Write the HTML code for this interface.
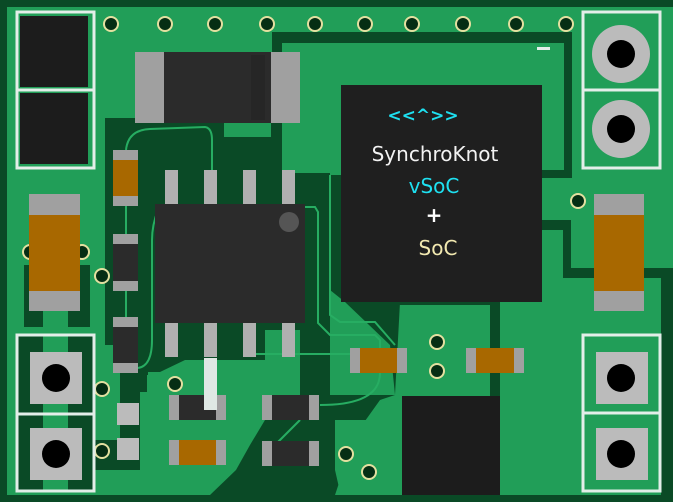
<!DOCTYPE html>
<html><head><meta charset="utf-8"><style>
html,body{margin:0;padding:0;background:#0a4a26;}
svg{display:block;}
text{font-family:"Liberation Sans","DejaVu Sans",sans-serif;}
</style></head><body>
<svg width="673" height="502" viewBox="0 0 673 502" xmlns="http://www.w3.org/2000/svg">
<defs>
<g id="via"><circle r="8" fill="#e3e0a0"/><circle r="6" fill="#052e14"/></g>
</defs>
<rect width="673" height="502" fill="#0a4a26"/>
<rect x="7" y="7" width="666" height="488" fill="#219e58"/>
<!-- dark pour regions -->
<polygon fill="#0a4a26" points="105,118 135,118 135,123 224,123 224,137 271,137 271,123 282,123 282,173 330,173 330,175 345,175 345,302 400,302 395,395 380,400 360,428 335,460 340,480 335,495 210,495 236,470 250,445 265,420 300,395 255,395 255,360 185,360 160,372 148,372 148,392 140,392 140,470 120,470 120,345 105,345"/>
<polygon fill="#219e58" points="147,375 185,375 185,395 210,395 210,420 240,410 250,425 240,448 215,470 195,470 195,440 165,440 165,420 147,420"/>
<polygon fill="#219e58" points="265,330 300,330 300,395 265,420 255,420 255,360 265,360"/>
<polygon fill="#219e58" points="330,290 345,302 390,345 395,395 330,395"/>
<polygon fill="#219e58" points="335,420 395,420 395,492 340,492 335,470"/>
<!-- right outlines -->
<polygon fill="#0a4a26" points="272,32 572,32 572,178 542,178 542,170 564,170 564,43 282,43 282,123 272,123"/>
<rect x="542" y="220" width="29" height="10" fill="#0a4a26"/>
<rect x="563" y="220" width="8" height="58" fill="#0a4a26"/>
<rect x="563" y="268" width="110" height="10" fill="#0a4a26"/>
<rect x="661" y="268" width="12" height="227" fill="#0a4a26"/>
<rect x="490" y="302" width="10" height="193" fill="#0a4a26"/>
<rect x="380" y="300" width="110" height="5" fill="#0a4a26"/>
<!-- left region darks -->
<rect x="24" y="265" width="66" height="62" fill="#0a4a26"/>
<rect x="43" y="265" width="25" height="62" fill="#219e58"/>
<rect x="16" y="334" width="79" height="158" fill="#0a4a26"/>
<rect x="43" y="334" width="25" height="158" fill="#219e58"/>
<rect x="95" y="440" width="30" height="30" fill="#0a4a26"/>
<!-- traces -->
<g fill="none" stroke="#27ad62" stroke-width="2">
<path d="M126,150 Q128,130 150,129 L205,127 Q212,128 212,140 L212,170"/>
<path d="M126,206 V234 M126,290 V317"/>
<path d="M138,368 Q152,366 152,340 V240 Q152,225 158,210"/>
<path d="M305,207 L315,207 L318,212 L318,323 L330,335 L375,335 L380,340 L380,348"/>
<path d="M330,175 V315 L340,322 L375,322 L395,345"/>
<path d="M256,354 H350"/>
<path d="M380,373 Q380,405 320,405"/>
<path d="M300,420 L270,450"/>
</g>
<!-- top-left pads -->
<rect x="17" y="12" width="77" height="156" fill="none" stroke="#e3eee9" stroke-width="3"/>
<line x1="17" y1="90" x2="94" y2="90" stroke="#e3eee9" stroke-width="3"/>
<rect x="20" y="16" width="68" height="71" fill="#1c1c1c"/>
<rect x="20" y="93" width="68" height="71" fill="#1c1c1c"/>
<!-- vias -->
<use href="#via" x="111" y="24"/><use href="#via" x="165" y="24"/><use href="#via" x="215" y="24"/><use href="#via" x="267" y="24"/><use href="#via" x="315" y="24"/>
<use href="#via" x="365" y="24"/><use href="#via" x="412" y="24"/><use href="#via" x="463" y="24"/><use href="#via" x="516" y="24"/><use href="#via" x="566" y="24"/>
<use href="#via" x="578" y="201"/><use href="#via" x="437" y="342"/><use href="#via" x="437" y="371"/><use href="#via" x="346" y="454"/><use href="#via" x="369" y="472"/>
<use href="#via" x="175" y="384"/><use href="#via" x="102" y="276"/><use href="#via" x="102" y="389"/><use href="#via" x="102" y="451"/><use href="#via" x="30" y="252"/><use href="#via" x="82" y="252"/>
<!-- big resistor -->
<rect x="135" y="52" width="165" height="71" fill="#2b2b2b"/>
<rect x="135" y="52" width="29" height="71" fill="#a0a0a0"/>
<rect x="271" y="52" width="29" height="71" fill="#a0a0a0"/>
<rect x="251" y="55" width="14" height="65" fill="#262626"/>
<!-- left cap -->
<rect x="29" y="194" width="51" height="117" fill="#a86800"/>
<rect x="29" y="194" width="51" height="21" fill="#a0a0a0"/>
<rect x="29" y="291" width="51" height="20" fill="#a0a0a0"/>
<!-- right cap -->
<rect x="594" y="194" width="50" height="117" fill="#a86800"/>
<rect x="594" y="194" width="50" height="21" fill="#a0a0a0"/>
<rect x="594" y="291" width="50" height="20" fill="#a0a0a0"/>
<!-- vertical small parts -->
<rect x="113" y="150" width="25" height="56" fill="#a86800"/><rect x="113" y="150" width="25" height="10" fill="#a0a0a0"/><rect x="113" y="196" width="25" height="10" fill="#a0a0a0"/>
<rect x="113" y="234" width="25" height="57" fill="#2b2b2b"/><rect x="113" y="234" width="25" height="10" fill="#a0a0a0"/><rect x="113" y="281" width="25" height="10" fill="#a0a0a0"/>
<rect x="113" y="317" width="25" height="56" fill="#2b2b2b"/><rect x="113" y="317" width="25" height="10" fill="#a0a0a0"/><rect x="113" y="363" width="25" height="10" fill="#a0a0a0"/>
<!-- IC8 -->
<g fill="#b0b0b0">
<rect x="165" y="170" width="13" height="34"/><rect x="204" y="170" width="13" height="34"/><rect x="243" y="170" width="13" height="34"/><rect x="282" y="170" width="13" height="34"/>
<rect x="165" y="323" width="13" height="34"/><rect x="204" y="323" width="13" height="34"/><rect x="243" y="323" width="13" height="34"/><rect x="282" y="323" width="13" height="34"/>
</g>
<rect x="155" y="204" width="150" height="119" fill="#2b2b2b"/>
<circle cx="289" cy="222" r="10" fill="#555"/>
<!-- big IC -->
<rect x="341" y="85" width="201" height="217" fill="#1f1f1f"/>
<text x="423" y="121" font-size="17" font-weight="bold" fill="#1ee0f0" text-anchor="middle" style="font-family:'DejaVu Sans',sans-serif">&lt;&lt;^&gt;&gt;</text>
<text x="435" y="161" font-size="20" fill="#f2f2f2" text-anchor="middle" style="font-family:'DejaVu Sans',sans-serif">SynchroKnot</text>
<text x="434" y="193" font-size="20" fill="#1ee0f0" text-anchor="middle" style="font-family:'DejaVu Sans',sans-serif">vSoC</text>
<text x="434" y="222" font-size="20" font-weight="bold" fill="#ffffff" text-anchor="middle" style="font-family:'DejaVu Sans',sans-serif">+</text>
<text x="438" y="255" font-size="20" fill="#f1e8b0" text-anchor="middle" style="font-family:'DejaVu Sans',sans-serif">SoC</text>
<rect x="537" y="47" width="13" height="3" fill="#e3eee9"/>
<!-- right top pads -->
<rect x="583" y="12" width="77" height="156" fill="none" stroke="#e3eee9" stroke-width="3"/>
<line x1="583" y1="90" x2="660" y2="90" stroke="#e3eee9" stroke-width="3"/>
<circle cx="621" cy="54" r="29" fill="#bbb"/><circle cx="621" cy="54" r="14" fill="#000"/>
<circle cx="621" cy="129" r="29" fill="#bbb"/><circle cx="621" cy="129" r="14" fill="#000"/>
<!-- right bottom pads -->
<rect x="583" y="335" width="77" height="156" fill="none" stroke="#e3eee9" stroke-width="3"/>
<line x1="583" y1="413" x2="660" y2="413" stroke="#e3eee9" stroke-width="3"/>
<rect x="596" y="352" width="52" height="52" fill="#bbb"/><circle cx="621" cy="378" r="14" fill="#000"/>
<rect x="596" y="428" width="52" height="52" fill="#bbb"/><circle cx="621" cy="454" r="14" fill="#000"/>
<!-- left bottom pads -->
<rect x="17" y="335" width="77" height="156" fill="none" stroke="#e3eee9" stroke-width="3"/>
<line x1="17" y1="414" x2="94" y2="414" stroke="#e3eee9" stroke-width="3"/>
<rect x="30" y="352" width="52" height="52" fill="#bbb"/><circle cx="56" cy="378" r="14" fill="#000"/>
<rect x="30" y="428" width="52" height="52" fill="#bbb"/><circle cx="56" cy="454" r="14" fill="#000"/>
<rect x="117" y="403" width="22" height="22" fill="#bbb"/>
<rect x="117" y="438" width="22" height="22" fill="#bbb"/>
<!-- bottom IC -->
<rect x="402" y="396" width="98" height="99" fill="#1c1c1c"/>
<!-- small horizontal resistors -->
<rect x="350" y="348" width="57" height="25" fill="#a86800"/><rect x="350" y="348" width="10" height="25" fill="#a0a0a0"/><rect x="397" y="348" width="10" height="25" fill="#a0a0a0"/>
<rect x="466" y="348" width="58" height="25" fill="#a86800"/><rect x="466" y="348" width="10" height="25" fill="#a0a0a0"/><rect x="514" y="348" width="10" height="25" fill="#a0a0a0"/>
<rect x="169" y="395" width="57" height="25" fill="#2b2b2b"/><rect x="169" y="395" width="10" height="25" fill="#a0a0a0"/><rect x="216" y="395" width="10" height="25" fill="#a0a0a0"/>
<rect x="262" y="395" width="57" height="25" fill="#2b2b2b"/><rect x="262" y="395" width="10" height="25" fill="#a0a0a0"/><rect x="309" y="395" width="10" height="25" fill="#a0a0a0"/>
<rect x="169" y="440" width="57" height="25" fill="#a86800"/><rect x="169" y="440" width="10" height="25" fill="#a0a0a0"/><rect x="216" y="440" width="10" height="25" fill="#a0a0a0"/>
<rect x="262" y="441" width="57" height="25" fill="#2b2b2b"/><rect x="262" y="441" width="10" height="25" fill="#a0a0a0"/><rect x="309" y="441" width="10" height="25" fill="#a0a0a0"/>
<rect x="204" y="358" width="13" height="52" fill="#dfe8e4"/>
</svg>
</body></html>
